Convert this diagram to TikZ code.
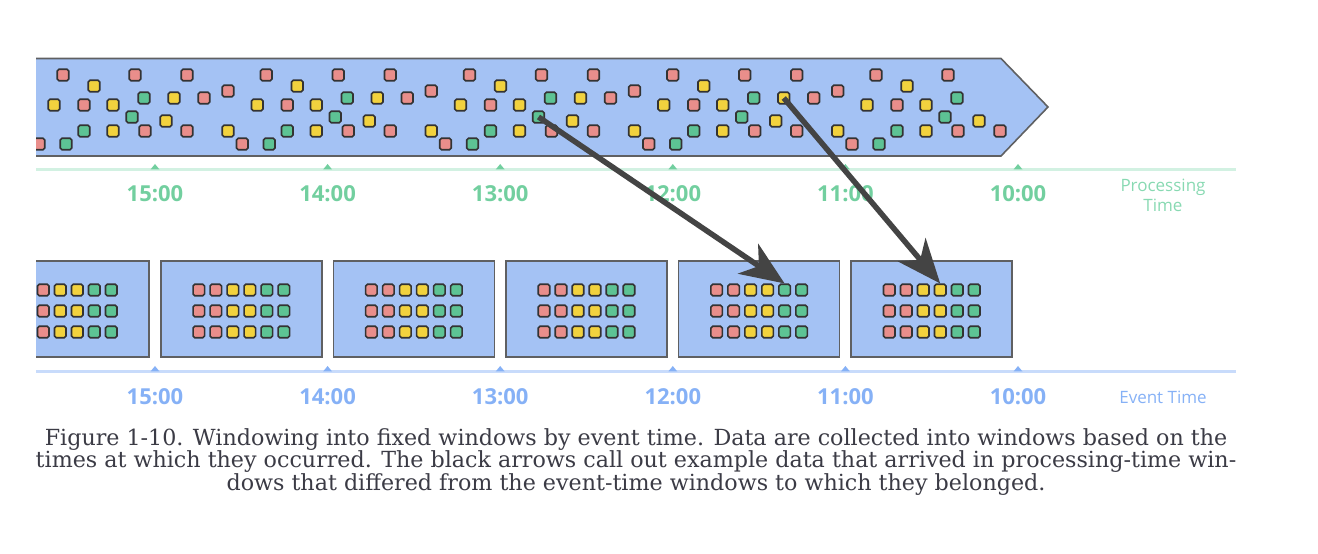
\documentclass[tikz,border=0pt]{standalone}
\usepackage{fontspec}
\setmainfont{DejaVu Serif}
\newfontfamily\axisfont{Open Sans}
\usetikzlibrary{arrows.meta}
\definecolor{WTBlue}{HTML}{A4C2F4}
\definecolor{WTEdge}{HTML}{5F6062}
\definecolor{WTSqEdge}{HTML}{333333}
\definecolor{sqred}{HTML}{E98E8B}
\definecolor{sqyellow}{HTML}{F2D23E}
\definecolor{sqgreen}{HTML}{5DC394}
\definecolor{WTProc}{HTML}{72CF9F}
\definecolor{WTProcSoft}{HTML}{88D9B2}
\definecolor{WTProcLine}{HTML}{D2F1E2}
\definecolor{WTEvent}{HTML}{86B1F6}
\definecolor{WTEventLine}{HTML}{C8DBFB}
\definecolor{WTArrow}{HTML}{444444}
\definecolor{WTCaption}{HTML}{3B3B45}
\tikzset{
  sq/.style={draw=WTSqEdge,line width=1.6pt,rounded corners=1.8pt,fill=sq#1,
             minimum size=11.5pt,inner sep=0pt},
  band/.style={draw=WTEdge,line width=1.6pt,fill=WTBlue},
  win/.style={band,minimum width=161pt,minimum height=96pt,inner sep=0pt},
  ptime/.style={text=WTProc,font=\axisfont\bfseries\fontsize{22}{26}\selectfont},
  etime/.style={ptime,text=WTEvent},
  axisname/.style={text=WTProcSoft,font=\axisfont\fontsize{17}{20}\selectfont,align=center},
  callout/.style={-{Stealth[length=44pt,width=36pt,inset=13pt]},WTArrow,line width=5.5pt},
  caption/.style={text=WTCaption,font=\fontsize{22.2}{22.6}\selectfont,align=center},
}
% one repeating stretch of the processing-time stream: index/dx/y/colour/kept in last stretch
\newcommand\tilesquares{1/0/479/red/1, 2/72/479/red/1, 3/124/479/red/0, 4/31/468/yellow/1,
  5/165/463/red/0, 6/81/456/green/1, 7/111/456/yellow/0, 8/141/456/red/0,
  9/-9/449/yellow/1, 10/21/449/red/1, 11/50/449/yellow/1, 12/69/437/green/1,
  13/103/433/yellow/1, 14/21/423/green/1, 15/50/423/yellow/1, 16/82/423/red/1,
  17/124/423/red/1, 18/165/423/yellow/0, 19/-24/410/red/1, 20/3/410/green/1}
\begin{document}
\begin{tikzpicture}[x=1pt,y=1pt]
  \useasboundingbox (0,0) rectangle (1318,554);

  \begin{scope}
    \clip (36,0) rectangle (1318,554);
    % processing-time stream
    \draw[band] (20,495.5) -- (1001,495.5) -- (1048,447) -- (1001,398) -- (20,398) -- cycle;
    \foreach \k in {0,...,4}
      \foreach \i/\dx/\yy/\col/\last in \tilesquares {
        \pgfmathtruncatemacro\shown{(\k<4)||(\last==1)}
        \ifnum\shown=1
          \node[sq=\col] (sq-\k-\i) at ({63+203.25*\k+\dx},\yy) {};
        \fi
      }

    % event-time windows
    \foreach \w in {0,...,5}{
      \node[win] (win\w) at ({68.7+172.6*\w},245) {};
      \foreach \j/\col in {1/red,2/red,3/yellow,4/yellow,5/green,6/green}
        \foreach \r/\yy in {1/264,2/243,3/222}
          \node[sq=\col] (ev-\w-\r-\j) at ({68.7+172.6*\w+17*(\j-3.5)},\yy) {};
    }

    % time axes
    \draw[WTProcLine,line width=3pt] (36,384) -- (1236,384);
    \draw[WTEventLine,line width=3pt] (36,182) -- (1236,182);
  \end{scope}

  \foreach \t [count=\n from 0] in {15,14,13,12,11,10}{
    \fill[WTProc] ({155+172.6*\n-4.5},384.5) -- ++(9,0) -- ++(-4.5,5.5) -- cycle;
    \fill[WTEvent] ({155+172.6*\n-4.5},182.5) -- ++(9,0) -- ++(-4.5,5.5) -- cycle;
    \node[ptime] (pt\t) at ({155+172.6*\n},360) {\t:00};
    \node[etime] (et\t) at ({155+172.6*\n},157) {\t:00};
  }
  \node[axisname] (ptname) at (1163,359) {Processing\\Time};
  \node[axisname,text=WTEvent] (etname) at (1163,157) {Event Time};

  \draw[callout] (sq-2-12.center) -- (ev-4-1-5.north);
  \draw[callout] (sq-3-7.center) -- (ev-5-1-4.north);

  \node[caption] (cap) at (636,92)
    {Figure 1-10. Windowing into fixed windows by event time. Data are collected into windows based on the\\
     times at which they occurred. The black arrows call out example data that arrived in processing-time win-\\
     dows that differed from the event-time windows to which they belonged.};
\end{tikzpicture}
\end{document}
